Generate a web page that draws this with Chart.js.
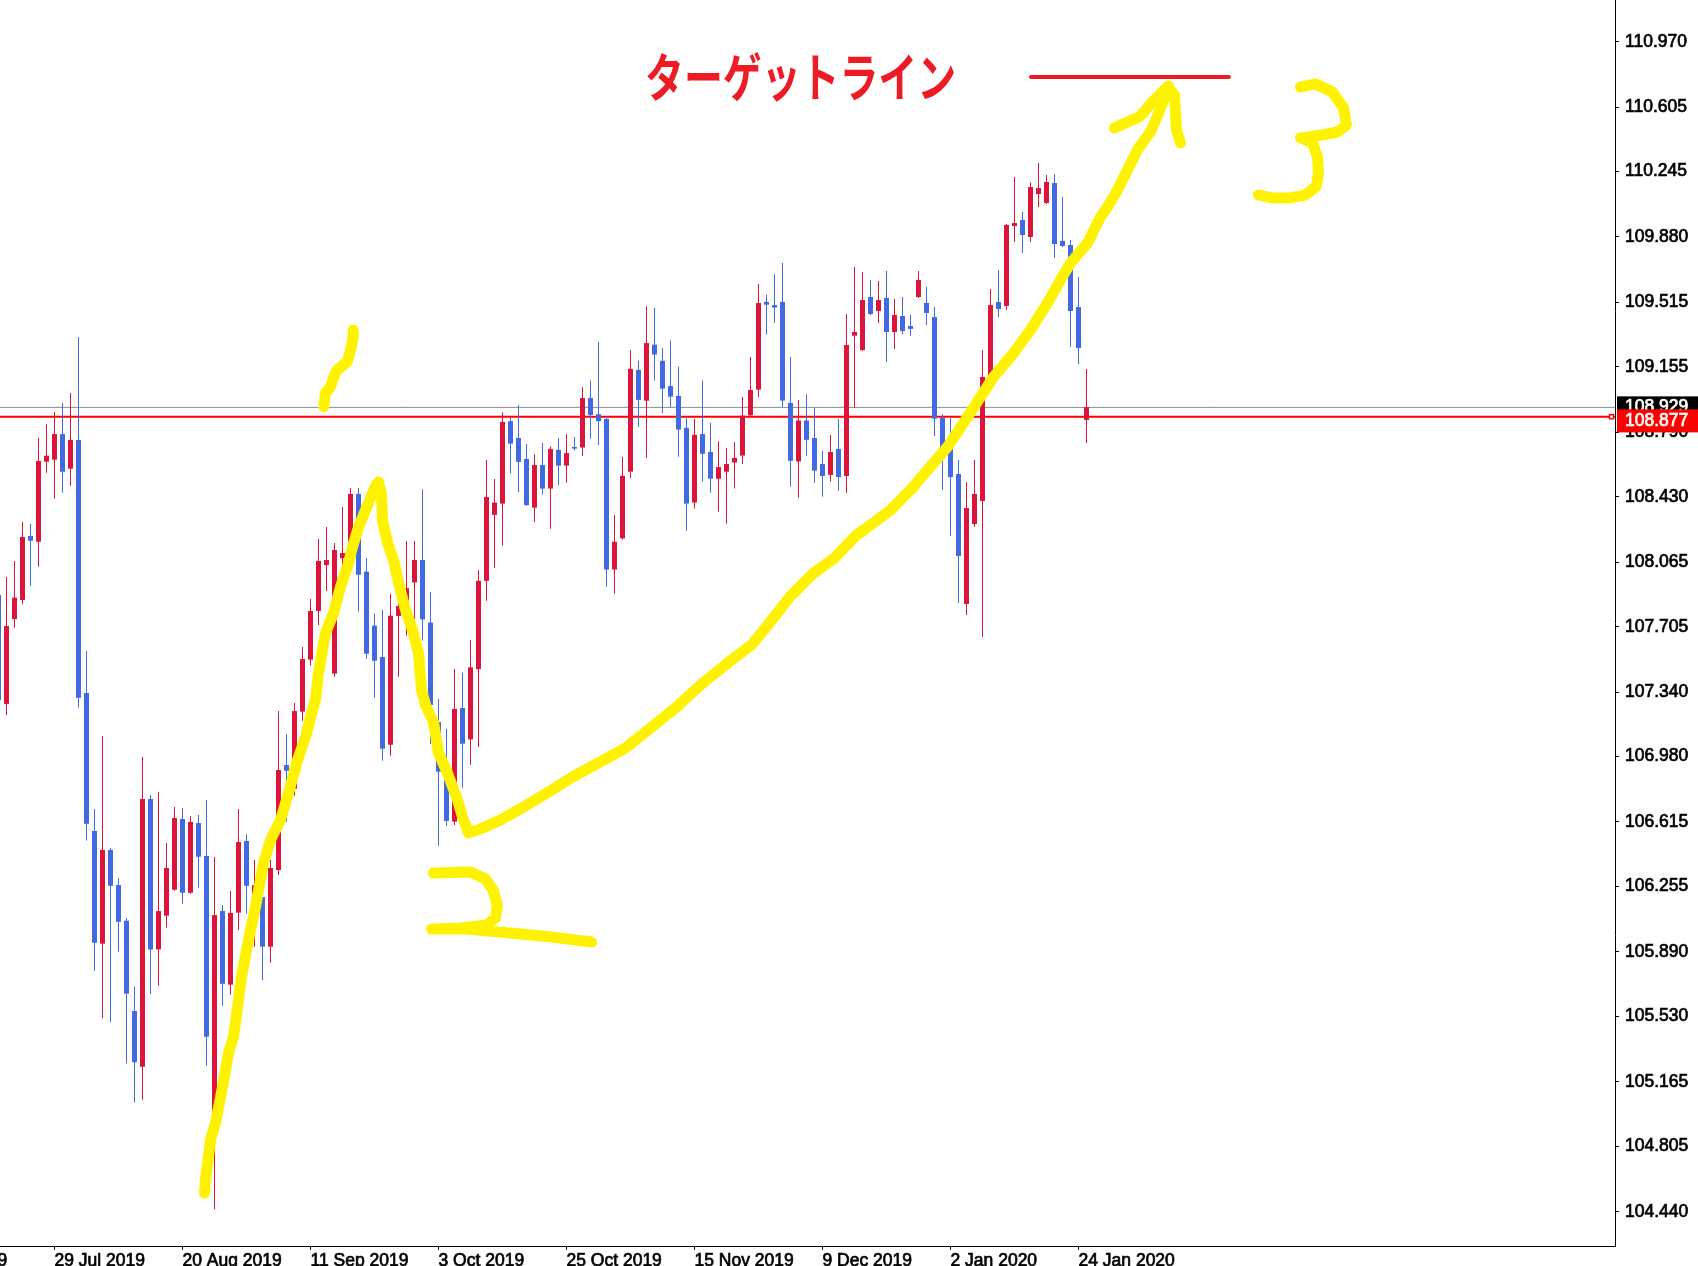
<!DOCTYPE html>
<html>
<head>
<meta charset="utf-8">
<title>USDJPY Daily</title>
<script src="https://cdn.jsdelivr.net/npm/chart.js"></script>
<style>
  html, body { margin: 0; padding: 0; background: #fff; }
  #wrap { width: 1698px; height: 1266px; position: relative; }
</style>
</head>
<body>
<div id="wrap"><canvas id="priceChart"></canvas></div>
<script>
/*
  USDJPY daily candles, Jul 2019 - Jan 2020, with hand drawn notes
*/

// bar numbers: 29 Jul 2019 is bar 6, the first array entry is bar -1
const firstBar = -1

const opens = [
  107.882, 107.274, 107.748, 107.854, 108.211, 108.179, 108.626, 108.637, 108.780, 108.587,
  108.747, 107.335, 106.565, 105.936, 106.459, 106.263, 106.064, 105.560, 105.249, 106.743,
  105.904, 106.092, 106.237, 106.632, 106.220, 106.609, 106.425, 104.989, 106.118, 105.707,
  106.109, 106.509, 106.040, 106.196, 105.919, 106.347, 106.933, 106.801, 107.231, 107.521,
  107.793, 108.049, 107.443, 108.087, 108.161, 108.446, 108.012, 107.711, 107.536, 107.046,
  107.765, 107.771, 107.952, 108.077, 107.728, 107.173, 106.922, 106.617, 107.251, 107.076,
  107.468, 107.961, 108.329, 108.392, 108.852, 108.758, 108.641, 108.369, 108.607, 108.476,
  108.692, 108.604, 108.708, 108.705, 108.981, 108.891, 108.864, 108.024, 108.198, 108.570,
  109.138, 108.966, 109.279, 109.189, 109.048, 108.993, 108.815, 108.398, 108.780, 108.680,
  108.531, 108.570, 108.621, 108.660, 108.885, 109.028, 109.518, 109.500, 109.518, 108.954,
  108.627, 108.856, 108.758, 108.613, 108.552, 108.697, 108.546, 109.329, 109.249, 109.545,
  109.467, 109.540, 109.350, 109.439, 109.383, 109.545, 109.512, 109.433, 108.870, 108.697,
  108.557, 107.832, 108.278, 108.406, 109.099, 109.517, 109.495, 109.941, 109.975, 109.880,
  110.120, 110.070, 110.181, 109.858, 109.835, 109.489, 108.859
]
const highs = [
  107.949, 107.984, 108.072, 108.291, 108.278, 108.760, 108.836, 108.903, 108.953, 109.009,
  109.322, 107.569, 106.687, 107.095, 106.470, 106.302, 106.081, 105.696, 106.978, 106.766,
  106.782, 106.498, 106.699, 106.693, 106.648, 106.654, 106.738, 106.420, 106.152, 106.230,
  106.687, 106.548, 106.403, 106.291, 106.403, 107.234, 107.106, 107.279, 107.592, 107.860,
  108.194, 108.261, 108.172, 108.373, 108.479, 108.479, 108.090, 107.778, 107.800, 107.889,
  107.887, 108.183, 108.183, 108.472, 107.899, 107.301, 107.134, 107.469, 107.448, 107.631,
  108.022, 108.635, 108.529, 108.901, 108.871, 108.942, 108.725, 108.668, 108.731, 108.711,
  108.758, 108.780, 108.764, 109.042, 109.077, 109.295, 108.878, 108.329, 108.653, 109.249,
  109.189, 109.494, 109.484, 109.261, 109.301, 109.156, 108.868, 108.864, 109.077, 108.842,
  108.740, 108.703, 108.736, 108.987, 109.210, 109.618, 109.557, 109.674, 109.735, 109.210,
  108.970, 109.003, 108.928, 108.686, 108.775, 108.864, 109.450, 109.713, 109.685, 109.640,
  109.634, 109.690, 109.534, 109.545, 109.445, 109.690, 109.601, 109.489, 108.892, 108.870,
  108.635, 108.513, 108.635, 109.249, 109.590, 109.696, 109.953, 110.215, 110.020, 110.185,
  110.293, 110.226, 110.232, 110.103, 109.863, 109.657, 109.143
]
const lows = [
  107.285, 107.212, 107.699, 107.830, 107.934, 108.040, 108.564, 108.419, 108.453, 108.492,
  107.255, 106.511, 105.785, 105.519, 105.497, 105.891, 105.268, 105.050, 105.065, 105.653,
  105.701, 106.025, 106.231, 106.159, 106.215, 106.248, 105.255, 104.453, 105.590, 105.651,
  106.012, 106.103, 105.919, 105.733, 105.830, 106.319, 106.617, 106.762, 107.180, 107.487,
  107.714, 107.904, 107.426, 107.910, 108.105, 107.789, 107.526, 107.309, 106.957, 106.985,
  107.426, 107.654, 107.748, 107.628, 107.050, 106.483, 106.593, 106.598, 106.806, 106.934,
  107.034, 107.850, 108.032, 108.157, 108.562, 108.457, 108.379, 108.290, 108.443, 108.251,
  108.496, 108.509, 108.688, 108.658, 108.754, 108.719, 107.928, 107.889, 108.191, 108.535,
  108.819, 108.647, 109.079, 108.897, 108.931, 108.653, 108.241, 108.365, 108.515, 108.453,
  108.347, 108.280, 108.476, 108.613, 108.881, 108.985, 109.336, 109.402, 108.931, 108.486,
  108.425, 108.657, 108.509, 108.430, 108.514, 108.464, 108.453, 108.927, 109.244, 109.445,
  109.400, 109.182, 109.255, 109.339, 109.327, 109.540, 109.389, 108.769, 108.468, 108.211,
  107.837, 107.770, 108.261, 107.647, 109.059, 109.433, 109.473, 109.852, 109.791, 109.852,
  110.047, 110.064, 109.763, 109.824, 109.266, 109.171, 108.730
]
const closes = [
  107.296, 107.709, 107.867, 108.206, 108.185, 108.630, 108.659, 108.780, 108.570, 108.747,
  107.309, 106.605, 105.941, 106.459, 106.259, 106.058, 105.657, 105.274, 106.743, 105.904,
  106.118, 106.358, 106.637, 106.220, 106.615, 106.421, 105.417, 106.096, 105.712, 106.107,
  106.503, 106.259, 106.263, 105.919, 106.358, 106.905, 106.901, 107.234, 107.525, 107.793,
  108.072, 108.077, 108.133, 108.116, 108.446, 107.995, 107.554, 107.515, 107.024, 107.766,
  107.820, 107.920, 108.077, 107.746, 107.268, 106.896, 106.621, 107.246, 107.052, 107.478,
  107.961, 108.429, 108.398, 108.848, 108.727, 108.625, 108.384, 108.607, 108.476, 108.697,
  108.604, 108.674, 108.699, 108.981, 108.887, 108.852, 108.024, 108.179, 108.547, 109.144,
  108.971, 109.288, 109.224, 109.034, 108.989, 108.805, 108.392, 108.776, 108.670, 108.531,
  108.596, 108.613, 108.647, 108.883, 109.026, 109.512, 109.502, 109.486, 108.967, 108.631,
  108.856, 108.748, 108.576, 108.546, 108.680, 108.540, 109.277, 109.350, 109.528, 109.450,
  109.528, 109.350, 109.445, 109.355, 109.367, 109.640, 109.456, 108.866, 108.691, 108.540,
  108.100, 108.367, 108.446, 109.099, 109.500, 109.478, 109.947, 109.958, 109.891, 110.159,
  110.153, 110.187, 109.841, 109.830, 109.467, 109.260, 108.931
]

// current prices
const bidPrice = 108.877
const askPrice = 108.929

// axis ticks
const priceTicks = [110.970, 110.605, 110.245, 109.880, 109.515, 109.155, 108.790, 108.430, 108.065,
  107.705, 107.340, 106.980, 106.615, 106.255, 105.890, 105.530, 105.165, 104.805, 104.440]
const dateTickBars = [-10, 6, 22, 38, 54, 70, 86, 102, 118, 134]
const dateTickLabels = ['5 Jul 2019', '29 Jul 2019', '20 Aug 2019', '11 Sep 2019', '3 Oct 2019',
  '25 Oct 2019', '15 Nov 2019', '9 Dec 2019', '2 Jan 2020', '24 Jan 2020']

// target note
const titleText = 'ターゲットライン'
const titleBar = 99.25
const targetLevel = 110.773
const targetBars = [128.06, 152.8]

// hand drawn strokes as [bar, price]
const trendStroke = [[24.75,104.544],[24.875,104.617],[25.5,104.840],[26.125,104.935],[27,105.136],[27.75,105.326],
  [28.375,105.415],[28.875,105.582],[29.375,105.750],[30.25,105.956],[31.125,106.141],[32.125,106.386],[33,106.514],
  [34.25,106.626],[35.25,106.777],[36.375,106.961],[37.375,107.089],[38.25,107.240],[38.625,107.296],[39,107.447],
  [39.875,107.670],[40.875,107.781],[41.75,107.927],[42.75,108.060],[43.25,108.150],[44,108.261],[44.875,108.356],
  [45.5,108.423],[46.125,108.490],[46.5,108.513],[46.875,108.440],[47,108.300],[47.625,108.172],[48.375,108.077],
  [49,107.949],[49.875,107.798],[50.75,107.687],[51.5,107.558],[51.875,107.352],[52.375,107.268],[53.375,107.173],
  [54,107.000],[55.125,106.888],[56.375,106.738],[57.125,106.626],[57.75,106.554],[59.5,106.581],[61.75,106.626],
  [64.625,106.699],[67.75,106.782],[70.5,106.860],[73.75,106.939],[77.375,107.028],[80.5,107.140],[83.625,107.251],
  [86.75,107.380],[90,107.497],[93.125,107.603],[95.375,107.726],[98,107.876],[100.75,107.999],[103.5,108.088],
  [106.125,108.211],[110.5,108.356],[113,108.468],[115.875,108.619],[117.625,108.708],[119.625,108.842],
  [121.75,108.987],[123.375,109.099],[125.875,109.232],[128,109.361],[130.125,109.512],[131.75,109.640],
  [133,109.735],[135.125,109.846],[136.75,109.992],[137.625,110.047],[138.875,110.142],[140.125,110.254],
  [141.375,110.366],[143.125,110.477],[144,110.572],[145.25,110.712],[146,110.672],[146.25,110.477],[146.75,110.405]]
const arrowStroke = [[138.5,110.488],[140.125,110.522],[141.625,110.550],[143.125,110.628],[145.25,110.723]]
const oneStroke = [[39.66,108.933],[39.875,109.009],[40.5,109.044],[40.91,109.100],[41.34,109.138],
  [42.59,109.184],[43,109.249],[43.34,109.323],[43.34,109.361]]
const twoStroke = [[53.375,106.330],[58,106.336],[59.875,106.297],[60.875,106.230],[61.375,106.146],
  [61.125,106.079],[60,106.040],[56.75,106.023],[53.125,106.018],[57.5,106.018],[62.875,105.995],
  [68.25,105.973],[73.125,105.945]]
const threeStroke = [[161.75,110.717],[163.625,110.734],[165.75,110.689],[167.125,110.600],[167.5,110.505],
  [166.375,110.466],[164.375,110.449],[161.75,110.433],[163.25,110.405],[163.875,110.326],[164,110.237],
  [163.75,110.165],[162.375,110.114],[160.375,110.098],[158.25,110.098],[156.5,110.114]]

const upColor = '#DC143C'
const downColor = '#4169E1'
const yellow = '#FFF200'
const noteRed = '#ED1C24'
const tickFont = { family: '"Liberation Sans", Arial, sans-serif', size: 17.5 }

const xMin = -0.8125
const xMax = 201.0625
const yMin = 104.2485
const yMax = 111.2027

const wickData = highs.map((h, i) => ({ x: firstBar + i, y: [lows[i], h] }))
const bodyData = opens.map((o, i) => ({ x: firstBar + i, y: [o, closes[i]] }))
const candleColors = opens.map((o, i) => closes[i] >= o ? upColor : downColor)

const toPoints = stroke => stroke.map(([b, p]) => ({ x: b, y: p }))

function strokeSet(stroke) {
  return {
    type: 'line',
    data: toPoints(stroke),
    borderColor: yellow,
    borderWidth: 11,
    borderCapStyle: 'round',
    borderJoinStyle: 'round',
    pointRadius: 0,
    tension: 0,
    fill: false,
    order: 0
  }
}

function levelSet(price, color, width) {
  return {
    type: 'line',
    data: [{ x: xMin, y: price }, { x: xMax, y: price }],
    borderColor: color,
    borderWidth: width,
    pointRadius: 0,
    fill: false,
    order: 5
  }
}

// title text and price boxes on the right
const overlayPlugin = {
  id: 'overlay',
  afterDraw(chart) {
    const { ctx, chartArea } = chart
    const x = chart.scales.x
    const y = chart.scales.y

    ctx.save()
    ctx.font = 'bold 52px "Noto Sans CJK JP", sans-serif'
    ctx.fillStyle = noteRed
    ctx.textAlign = 'center'
    ctx.textBaseline = 'middle'
    const w = ctx.measureText(titleText).width
    ctx.translate(x.getPixelForValue(titleBar), y.getPixelForValue(targetLevel))
    ctx.scale(311 / w, 1)
    ctx.fillText(titleText, 0, 0)
    ctx.restore()

    const yAsk = y.getPixelForValue(askPrice)
    const yBid = y.getPixelForValue(bidPrice)
    const left = chartArea.right + 2
    const boxW = chart.width - left
    ctx.save()
    ctx.font = '17.5px "Liberation Sans", Arial, sans-serif'
    ctx.textAlign = 'left'
    ctx.textBaseline = 'middle'
    ctx.lineWidth = 0.7
    ctx.fillStyle = '#000'
    ctx.fillRect(left, yAsk - 11, boxW, 22)
    ctx.fillStyle = '#fff'
    ctx.strokeStyle = '#fff'
    ctx.fillText(askPrice.toFixed(3), chartArea.right + 10, yAsk)
    ctx.strokeText(askPrice.toFixed(3), chartArea.right + 10, yAsk)
    const redTop = Math.max(yBid - 11, yAsk + 2)
    ctx.fillStyle = '#FF0000'
    ctx.fillRect(left, redTop, boxW, 23)
    ctx.fillStyle = '#fff'
    ctx.fillText(bidPrice.toFixed(3), chartArea.right + 10, redTop + 11.5)
    ctx.strokeText(bidPrice.toFixed(3), chartArea.right + 10, redTop + 11.5)
    ctx.strokeStyle = '#FF0000'
    ctx.lineWidth = 1.5
    ctx.fillRect(chartArea.right - 5.5, yBid - 2, 4, 4)
    ctx.strokeRect(chartArea.right - 5.5, yBid - 2, 4, 4)
    ctx.restore()
  }
}

const priceChart = new Chart(document.getElementById('priceChart'), {
  type: 'bar',
  data: {
    datasets: [
      levelSet(askPrice, '#8C8C8C', 1),
      levelSet(bidPrice, '#FF0000', 2),
      {
        label: 'wick',
        data: wickData,
        backgroundColor: candleColors,
        barThickness: 1,
        grouped: false,
        borderWidth: 0,
        inflateAmount: 0,
        order: 3
      },
      {
        label: 'body',
        data: bodyData,
        backgroundColor: candleColors,
        barThickness: 5,
        minBarLength: 1,
        grouped: false,
        borderWidth: 0,
        inflateAmount: 0,
        order: 2
      },
      {
        type: 'line',
        data: targetBars.map(b => ({ x: b, y: targetLevel })),
        borderColor: noteRed,
        borderWidth: 4,
        borderCapStyle: 'round',
        pointRadius: 0,
        fill: false,
        order: 1
      },
      strokeSet(trendStroke),
      strokeSet(arrowStroke),
      strokeSet(oneStroke),
      strokeSet(twoStroke),
      strokeSet(threeStroke)
    ]
  },
  options: {
    responsive: true,
    maintainAspectRatio: false,
    animation: false,
    events: [],
    layout: { padding: 0 },
    plugins: {
      legend: { display: false },
      tooltip: { enabled: false }
    },
    scales: {
      x: {
        type: 'linear',
        position: 'bottom',
        min: xMin,
        max: xMax,
        offset: false,
        grid: { drawOnChartArea: false, offset: false, color: '#000', tickLength: 4 },
        border: { color: '#000', width: 1 },
        ticks: {
          autoSkip: false,
          maxRotation: 0,
          align: 'start',
          padding: 1,
          color: '#000',
          textStrokeColor: '#000',
          textStrokeWidth: 0.7,
          font: tickFont,
          callback: (v, i) => dateTickLabels[i]
        },
        afterBuildTicks: s => { s.ticks = dateTickBars.map(v => ({ value: v })) },
        afterFit: s => { s.height = 20; s.paddingLeft = 0; s.paddingRight = 0 }
      },
      y: {
        type: 'linear',
        position: 'right',
        min: yMin,
        max: yMax,
        beginAtZero: false,
        grid: { drawOnChartArea: false, color: '#000', tickLength: 4 },
        border: { color: '#000', width: 1 },
        ticks: {
          padding: 6,
          color: '#000',
          textStrokeColor: '#000',
          textStrokeWidth: 0.7,
          font: tickFont,
          callback: v => v.toFixed(3)
        },
        afterBuildTicks: s => { s.ticks = priceTicks.map(v => ({ value: v })) },
        afterFit: s => { s.width = 83; s.paddingTop = 0; s.paddingBottom = 0 }
      }
    }
  },
  plugins: [overlayPlugin]
})
</script>
</body>
</html>
